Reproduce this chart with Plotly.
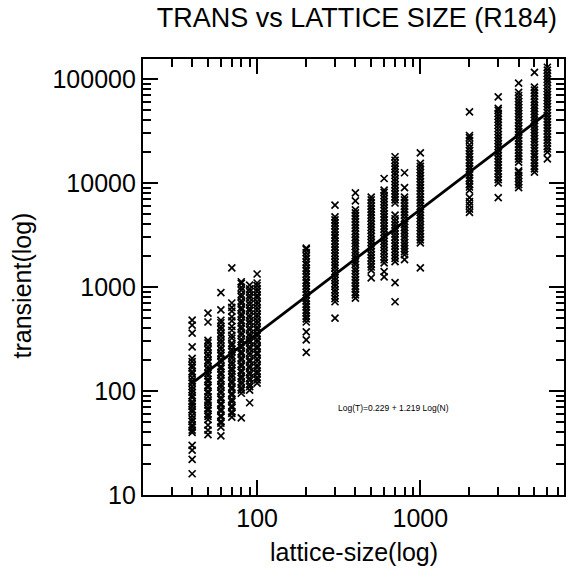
import plotly.graph_objects as go

# ---------------- data ----------------
lattice_sizes = [40, 50, 60, 70, 80, 90, 100, 200, 300, 400, 500, 600, 700, 800, 1000,
                 2000, 3000, 4000, 5000, 6000]

t40 = [16, 22, 27, 30, 40, 42, 45, 47, 51, 54, 58, 63, 66, 71, 75, 79, 86, 90, 97, 103,
       110, 119, 125, 134, 146, 153, 167, 176, 191, 206, 265, 360, 430, 480]
t50 = [38, 42, 47, 53, 57, 60, 65, 68, 73, 78, 81, 88, 95, 99, 108, 113, 123, 129, 140,
       148, 161, 170, 186, 197, 215, 228, 249, 265, 290, 306, 460, 560]
t60 = [37, 45, 49, 51, 56, 58, 64, 67, 73, 76, 83, 87, 95, 100, 109, 115, 125, 131, 143,
       151, 164, 172, 189, 200, 218, 231, 251, 266, 290, 309, 336, 358, 390, 415, 452,
       478, 600, 880]
t70 = [56, 61, 63, 69, 72, 79, 83, 91, 95, 104, 109, 119, 125, 136, 144, 156, 165, 179,
       190, 207, 218, 238, 251, 273, 288, 322, 343, 383, 418, 472, 515, 585, 635, 700, 1520]
t80 = [55, 95, 102, 107, 116, 122, 132, 139, 151, 158, 172, 181, 198, 208, 227, 239, 260,
       274, 298, 314, 343, 361, 395, 416, 453, 478, 521, 550, 600, 632, 693, 735, 805,
       850, 930, 990, 1080, 1120]
t90 = [77, 102, 110, 116, 126, 133, 144, 152, 166, 174, 190, 200, 219, 232, 252, 267, 291,
       307, 335, 354, 386, 407, 443, 472, 510, 540, 588, 622, 676, 720, 780, 830, 900,
       955, 1040]
t100 = [119, 128, 135, 147, 155, 168, 177, 193, 204, 223, 235, 256, 270, 294, 311, 338,
        357, 388, 411, 446, 473, 513, 545, 590, 628, 680, 722, 783, 830, 900, 955, 1030,
        1090, 1330]
t200 = [235, 310, 370, 460, 492, 523, 562, 598, 643, 682, 733, 778, 838, 888, 953, 1015,
        1093, 1157, 1244, 1325, 1423, 1516, 1635, 1735, 1865, 1985, 2130, 2290, 2360]
t300 = [500, 720, 772, 822, 883, 938, 1012, 1076, 1154, 1226, 1322, 1406, 1513, 1607,
        1722, 1838, 1973, 2106, 2255, 2406, 2583, 2757, 2954, 3148, 3375, 3598, 3853,
        4117, 4405, 4700, 6100]
t400 = [780, 837, 888, 957, 1017, 1093, 1166, 1252, 1337, 1433, 1527, 1643, 1748, 1873,
        1996, 2143, 2287, 2452, 2617, 2803, 2996, 3213, 3426, 3672, 3925, 4203, 4497,
        4813, 5146, 5500, 6700, 8000]
t500 = [1220, 1450, 1553, 1657, 1783, 1897, 2033, 2177, 2334, 2487, 2663, 2847, 3053,
        3258, 3493, 3727, 3993, 4267, 4573, 4887, 5233, 5585, 5983, 6396, 6853, 7300]
t600 = [1250, 1400, 1700, 1823, 1946, 2093, 2228, 2393, 2557, 2743, 2927, 3134, 3346,
        3593, 3836, 4113, 4396, 4703, 5027, 5393, 5755, 6173, 6596, 7063, 7546, 8083,
        8500, 11000]
t700 = [720, 1100, 1750, 1883, 2007, 2153, 2297, 2463, 2627, 2823, 3006, 3224, 3446, 3693,
        3946, 4224, 4516, 4900, 6400, 6853, 7326, 7843, 8387, 8983, 9596, 10300, 10980,
        11820, 12580, 13520, 14380, 15420, 16480, 17800]
t800 = [1830, 2040, 2183, 2327, 2493, 2666, 2853, 3047, 3263, 3486, 3733, 3987, 4273,
        4566, 4893, 5226, 5593, 5976, 6403, 6846, 7300, 9000, 12500]
t1000 = [1520, 2650, 2833, 3026, 3243, 3466, 3713, 3966, 4253, 4546, 4873, 5206, 5573,
         5956, 6383, 6826, 7303, 7806, 8363, 8946, 9573, 10220, 10960, 11720, 12530,
         13380, 14420, 15400, 19400]
t2000 = [5200, 5600, 6100, 6600, 7200, 8500, 9120, 9680, 10430, 11080, 11930, 12670,
         13620, 14480, 15530, 16570, 17830, 18960, 20330, 21680, 23230, 25520, 27180,
         28500, 48000]
t3000 = [7200, 10000, 10730, 11380, 12230, 12970, 13930, 14870, 15930, 16970, 18230,
         19470, 20830, 22270, 23830, 25470, 27230, 29070, 31130, 33270, 35630, 38070,
         40730, 43470, 46530, 49670, 52000, 67000]
t4000 = [9000, 9620, 10270, 11030, 11770, 12630, 13000, 15800, 16930, 18070, 19330,
         20670, 22130, 23570, 25330, 26970, 28930, 30870, 33030, 35270, 37830, 40370,
         43230, 46170, 49430, 52770, 56530, 60370, 64630, 69070, 74000, 91000]
t5000 = [12700, 13630, 14470, 15530, 16570, 17830, 18970, 20330, 21670, 23230, 24870,
         26630, 28370, 30430, 32470, 34830, 37170, 39830, 42470, 45530, 48570, 52030,
         55570, 59530, 63570, 68030, 72670, 77830, 83000, 115000]
t6000 = [17000, 19700, 21130, 22470, 24130, 25770, 27530, 29470, 31530, 33670, 36030,
         38470, 41230, 44070, 47130, 50370, 53930, 57570, 61630, 65870, 70530, 75370,
         80630, 86170, 92230, 98570, 105300, 112700, 121300, 129000]

transients = [t40, t50, t60, t70, t80, t90, t100, t200, t300, t400, t500, t600, t700,
              t800, t1000, t2000, t3000, t4000, t5000, t6000]

# regression line as drawn in the figure (end points)
fit_x = [40, 6000]
fit_y = [119, 47000]
fit_label = "Log(T)=0.229 + 1.219 Log(N)"

y_ticks = [10, 100, 1000, 10000, 100000]
x_ticks = [100, 1000]

# ---------------- build figure ----------------
xs, ys = [], []
for n, vals in zip(lattice_sizes, transients):
    xs.extend([n] * len(vals))
    ys.extend(vals)

FONT = "Liberation Sans, Arial, Helvetica, sans-serif"

fig = go.Figure()
fig.add_trace(go.Scatter(
    x=xs, y=ys, mode="markers",
    marker=dict(symbol="x-thin", size=7, color="black",
                line=dict(color="black", width=1.7)),
    showlegend=False, hoverinfo="skip"))
fig.add_trace(go.Scatter(
    x=fit_x, y=fit_y, mode="lines",
    line=dict(color="black", width=2.8),
    showlegend=False, hoverinfo="skip"))

minor_x = [v * m for v in [10, 100, 1000] for m in range(2, 10)]
minor_y = [v * m for v in [10, 100, 1000, 10000, 100000] for m in range(2, 10)]

fig.update_xaxes(
    type="log", range=[1.301, 3.88],
    tickmode="array", tickvals=x_ticks, ticktext=[str(v) for v in x_ticks],
    ticks="inside", ticklen=15, tickwidth=1.8, tickcolor="black",
    minor=dict(tickmode="array", tickvals=minor_x, ticks="inside", ticklen=8,
               tickwidth=1.8, tickcolor="black", showgrid=False),
    showline=True, linecolor="black", linewidth=2.2, mirror="allticks",
    showgrid=False, zeroline=False,
    tickfont=dict(family=FONT, size=25, color="black"))
fig.update_yaxes(
    type="log", range=[1.0, 5.19],
    tickmode="array", tickvals=y_ticks, ticktext=[str(v) for v in y_ticks],
    ticks="inside", ticklen=15, tickwidth=1.8, tickcolor="black",
    minor=dict(tickmode="array", tickvals=minor_y, ticks="inside", ticklen=8,
               tickwidth=1.8, tickcolor="black", showgrid=False),
    showline=True, linecolor="black", linewidth=2.2, mirror="allticks",
    showgrid=False, zeroline=False,
    tickfont=dict(family=FONT, size=25, color="black"))

fig.update_layout(
    width=570, height=577,
    margin=dict(l=143, r=4, t=59, b=82),
    paper_bgcolor="white", plot_bgcolor="white",
    font=dict(family=FONT, color="black"),
    title=dict(text="TRANS vs LATTICE SIZE (R184)", x=0.508, xref="paper",
               xanchor="center", y=1 - 18 / 577, yref="container", yanchor="middle",
               font=dict(family=FONT, size=27, color="black")),
    annotations=[
        dict(text=fit_label, xref="paper", yref="paper", x=0.596, y=0.183,
             showarrow=False, font=dict(family=FONT, size=8.5, color="black")),
        dict(text="lattice-size(log)", xref="paper", yref="paper",
             x=0.5, y=-0.13, yanchor="middle", xanchor="center", showarrow=False,
             font=dict(family=FONT, size=25, color="black")),
        dict(text="transient(log)", xref="paper", yref="paper", textangle=-90,
             x=-0.288, y=0.48, xanchor="center", yanchor="middle", showarrow=False,
             font=dict(family=FONT, size=25, color="black")),
    ],
)

fig.write_html("out.html")
